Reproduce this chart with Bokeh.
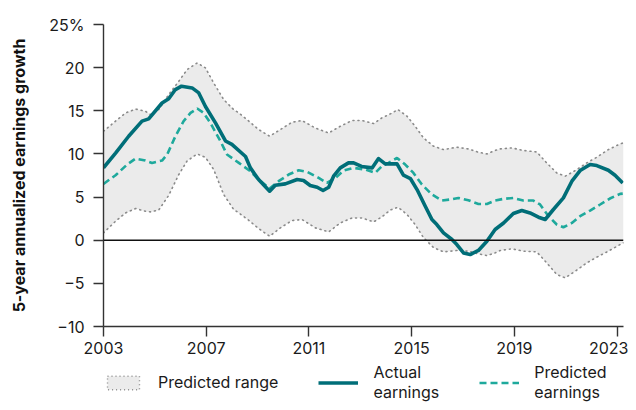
from bokeh.plotting import figure
from bokeh.models import ColumnDataSource, FixedTicker, Legend, LegendItem, Span
from bokeh.layouts import column
from bokeh.embed import file_html
from bokeh.resources import INLINE

# ---- data ----
actual_x = [2003.0, 2003.47, 2003.98, 2004.5, 2004.76, 2005.28, 2005.54, 2005.8, 2006.04, 2006.45,
            2006.71, 2006.97, 2007.36, 2007.75, 2008.0, 2008.53, 2008.72, 2009.04, 2009.47, 2009.69,
            2010.08, 2010.54, 2010.79, 2011.05, 2011.32, 2011.55, 2011.77, 2011.96, 2012.22, 2012.54,
            2012.74, 2013.05, 2013.46, 2013.71, 2013.97, 2014.43, 2014.68, 2014.95, 2015.21, 2015.53,
            2015.79, 2015.98, 2016.24, 2016.57, 2016.76, 2017.02, 2017.28, 2017.6, 2017.93, 2018.25,
            2018.58, 2018.96, 2019.29, 2019.61, 2019.94, 2020.2, 2020.52, 2020.91, 2021.24, 2021.56,
            2021.95, 2022.21, 2022.66, 2022.92, 2023.22]
actual_y = [8.4, 10.1, 12.05, 13.8, 14.06, 15.9, 16.4, 17.46, 17.85, 17.65,
            17.07, 15.5, 13.6, 11.5, 11.1, 9.7, 8.38, 7.03, 5.68, 6.37,
            6.53, 7.03, 6.92, 6.34, 6.14, 5.76, 6.14, 7.42, 8.38, 8.96,
            8.96, 8.55, 8.38, 9.46, 8.85, 8.85, 7.53, 7.15, 5.87, 3.94,
            2.4, 1.82, 0.85, 0.08, -0.5, -1.47, -1.66, -1.19, -0.12, 1.24,
            2.0, 3.09, 3.44, 3.16, 2.67, 2.4, 3.56, 4.9, 6.84, 8.07,
            8.77, 8.65, 8.11, 7.53, 6.64]

pred_x = [2003.0, 2003.47, 2003.92, 2004.25, 2004.63, 2004.89, 2005.28, 2005.48, 2005.8, 2006.12,
          2006.39, 2006.65, 2006.9, 2007.16, 2007.55, 2007.81, 2008.27, 2008.72, 2009.04, 2009.47,
          2009.82, 2010.21, 2010.6, 2010.93, 2011.38, 2011.7, 2012.03, 2012.35, 2012.74, 2013.2,
          2013.58, 2013.84, 2014.1, 2014.43, 2014.75, 2015.07, 2015.4, 2015.79, 2016.18, 2016.5,
          2016.82, 2017.21, 2017.6, 2017.93, 2018.25, 2018.58, 2018.96, 2019.35, 2019.74, 2020.0,
          2020.33, 2020.65, 2020.91, 2021.24, 2021.56, 2021.95, 2022.34, 2022.72, 2023.12, 2023.22]
pred_y = [6.53, 7.53, 8.77, 9.46, 9.23, 8.96, 9.23, 9.93, 12.05, 13.8,
          14.75, 15.26, 14.75, 13.6, 11.5, 9.93, 8.96, 8.0, 7.03, 6.0,
          6.84, 7.61, 8.11, 7.92, 7.22, 6.64, 7.22, 8.07, 8.38, 8.19,
          7.8, 8.57, 8.96, 9.54, 8.77, 7.8, 6.45, 5.3, 4.6, 4.72,
          4.9, 4.63, 4.2, 4.2, 4.6, 4.79, 4.9, 4.6, 4.6, 4.14,
          2.78, 1.82, 1.5, 2.0, 2.78, 3.44, 4.14, 4.83, 5.37, 5.4]

range_x = [2003.0, 2003.47, 2003.86, 2004.25, 2004.63, 2004.83, 2005.15, 2005.54, 2005.93, 2006.26,
           2006.65, 2006.97, 2007.29, 2007.68, 2008.07, 2008.27, 2008.66, 2009.04, 2009.47, 2009.89,
           2010.34, 2010.73, 2011.25, 2011.77, 2012.22, 2012.68, 2013.07, 2013.52, 2013.84, 2014.17,
           2014.47, 2014.82, 2015.14, 2015.46, 2015.85, 2016.24, 2016.76, 2017.21, 2017.6, 2017.93,
           2018.25, 2018.45, 2018.9, 2019.35, 2019.87, 2020.26, 2020.65, 2020.98, 2021.37, 2021.82,
           2022.21, 2022.66, 2023.12, 2023.25]
range_hi = [12.63, 13.8, 14.75, 15.2, 14.95, 14.56, 15.14, 16.88, 18.42, 19.78,
            20.55, 19.97, 18.23, 16.3, 15.14, 14.75, 13.8, 12.83, 12.05, 12.83,
            13.67, 13.87, 13.0, 12.43, 13.2, 13.87, 13.87, 13.52, 14.17, 14.64,
            15.14, 14.37, 13.2, 11.86, 10.9, 10.5, 10.78, 10.58, 10.2, 10.0,
            10.4, 10.58, 10.7, 10.4, 10.23, 8.96, 7.8, 7.42, 8.07, 8.96,
            9.62, 10.5, 11.16, 11.3]
range_lo = [0.85, 2.2, 3.16, 3.67, 3.36, 3.28, 3.5, 5.2, 7.6, 9.2,
            10.0, 9.6, 8.2, 5.3, 3.56, 3.16, 2.3, 1.35, 0.46, 1.43,
            2.28, 2.4, 1.43, 0.96, 2.0, 2.58, 2.58, 2.12, 2.7, 3.5,
            3.82, 2.98, 1.8, 0.3, -0.85, -1.35, -1.19, -1.27, -1.58, -1.78,
            -1.47, -1.19, -1.0, -1.27, -1.35, -2.63, -3.97, -4.36, -3.59, -2.63,
            -1.97, -1.27, -0.5, -0.3]

x_ticks = [2003, 2007, 2011, 2015, 2019, 2023]
y_ticks = [-10, -5, 0, 5, 10, 15, 20, 25]
y_labels = {25: "25%", 20: "20", 15: "15", 10: "10", 5: "5", 0: "0", -5: "\u22125", -10: "\u221210"}
legend_labels = ["Predicted range", "Actual\nearnings", "Predicted\nearnings"]

FONT = "Inter"
ACTUAL_C = "#006e78"
PRED_C = "#1ea99c"
BAND_C = "#ebebeb"
DOT_C = "#8a8a8a"
AX_C = "#333333"

p = figure(width=628, height=362, x_range=(2003, 2023.25), y_range=(-10, 25),
           output_backend="svg", toolbar_location=None,
           min_border_left=103, min_border_right=5, min_border_top=24, min_border_bottom=36)
p.outline_line_color = None
p.xgrid.visible = False
p.ygrid.visible = False
p.background_fill_color = "white"
p.border_fill_color = "white"

band_src = ColumnDataSource(dict(x=range_x + range_x[::-1], y=range_hi + range_lo[::-1]))
band = p.patch("x", "y", source=band_src, fill_color=BAND_C, line_color=None)
hi_line = p.line(range_x, range_hi, line_color=DOT_C, line_width=1.6, line_dash="1 4", line_cap="round")
lo_line = p.line(range_x, range_lo, line_color=DOT_C, line_width=1.6, line_dash="1 4", line_cap="round")

p.add_layout(Span(location=0, dimension="width", line_color="#111111", line_width=1.6))

pred = p.line(pred_x, pred_y, line_color=PRED_C, line_width=2.6, line_dash="7 4")
act = p.line(actual_x, actual_y, line_color=ACTUAL_C, line_width=3.6, line_join="round")

for ax in (p.xaxis[0], p.yaxis[0]):
    ax.axis_line_color = AX_C
    ax.axis_line_width = 1.4
    ax.major_tick_line_color = AX_C
    ax.major_tick_line_width = 1.4
    ax.major_tick_out = 10
    ax.major_tick_in = 0
    ax.minor_tick_line_color = None
    ax.major_label_text_font = FONT
    ax.major_label_text_font_size = "16px"
    ax.major_label_text_color = "#1a1a1a"

p.xaxis.ticker = FixedTicker(ticks=x_ticks)
p.xaxis.major_label_standoff = 5
p.yaxis.ticker = FixedTicker(ticks=y_ticks)
p.yaxis.major_label_overrides = y_labels
p.yaxis.major_label_standoff = 9
p.yaxis.axis_label = "5-year annualized earnings growth"
p.yaxis.axis_label_text_font = FONT
p.yaxis.axis_label_text_font_style = "bold"
p.yaxis.axis_label_text_font_size = "16px"
p.yaxis.axis_label_text_color = "#111111"
p.yaxis.axis_label_standoff = 17

# ---- legend strip (its renderers hold the same series, kept out of view) ----
lg = figure(width=628, height=48, x_range=(0, 1), y_range=(0, 1),
            output_backend="svg", toolbar_location=None,
            min_border_left=102, min_border_right=0, min_border_top=0, min_border_bottom=0)
lg.outline_line_color = None
lg.axis.visible = False
lg.xgrid.visible = False
lg.ygrid.visible = False
lg.border_fill_color = "white"
band_leg = lg.patch("x", "y", source=band_src, fill_color=BAND_C, line_color=DOT_C,
                    line_width=1.4, line_dash="1 3")
act_leg = lg.line(actual_x, actual_y, line_color=ACTUAL_C, line_width=3.6)
pred_leg = lg.line(pred_x, pred_y, line_color=PRED_C, line_width=2.6, line_dash="7 4")

legend = Legend(items=[
    LegendItem(label=legend_labels[0], renderers=[band_leg]),
    LegendItem(label=legend_labels[1], renderers=[act_leg]),
    LegendItem(label=legend_labels[2], renderers=[pred_leg]),
], orientation="horizontal", location="top_left")
legend.border_line_color = None
legend.background_fill_alpha = 0
legend.padding = 0
legend.margin = 0
legend.spacing = 40
legend.glyph_width = 40
legend.glyph_height = 17
legend.label_standoff = 15
legend.label_text_font = FONT
legend.label_text_font_size = "16px"
legend.label_text_color = "#1a1a1a"
lg.add_layout(legend)

layout = column(p, lg, spacing=0)
open("out.html", "w").write(file_html(layout, INLINE))
